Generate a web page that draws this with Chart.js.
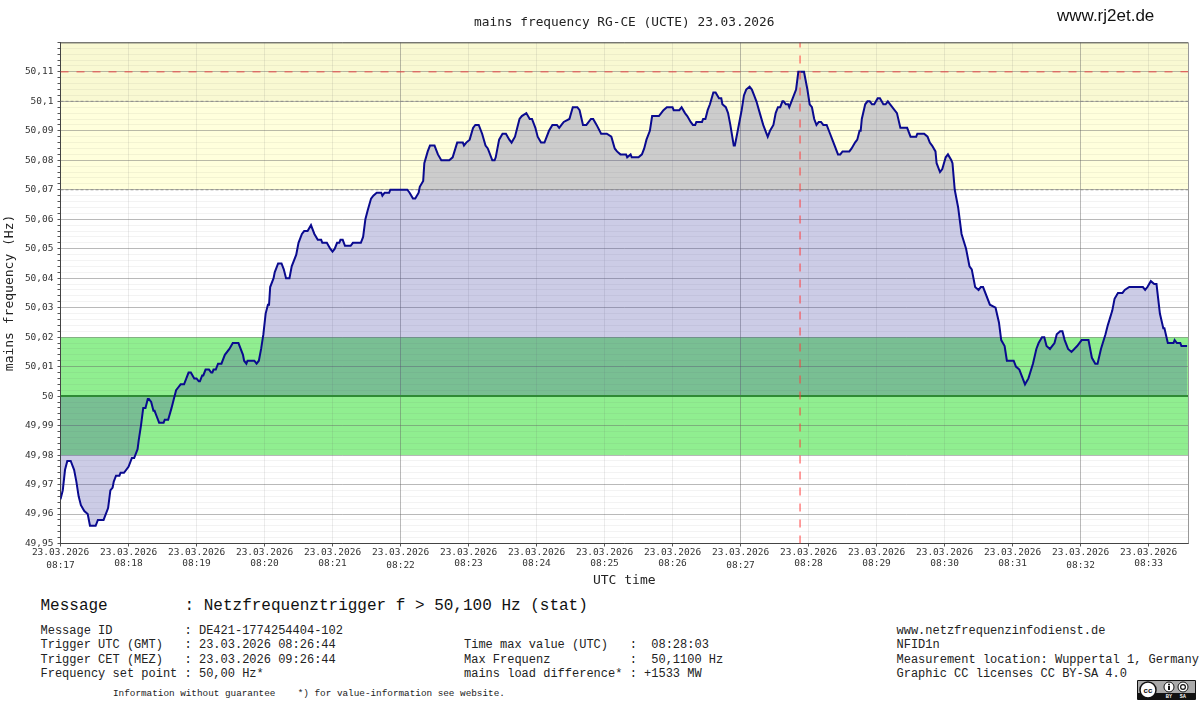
<!DOCTYPE html>
<html>
<head>
<meta charset="utf-8">
<title>mains frequency</title>
<script src="https://cdn.jsdelivr.net/npm/chart.js@4"></script>
<style>
  html, body { margin: 0; padding: 0; background: #fff; }
  #page { position: relative; width: 1200px; height: 704px; overflow: hidden; }
  #chartBox { position: absolute; left: 0; top: 0; width: 1200px; height: 590px; }
  .t { position: absolute; white-space: pre; font-family: "Liberation Mono", monospace; color: #222; font-size: 12px; line-height: 14.4px; }
  #site { font-family: "Liberation Sans", sans-serif; font-size: 17px; line-height: 20px; color: #111; left: 1057px; top: 6px; }
  #msg { font-size: 16px; line-height: 18px; left: 40.5px; top: 597px; color: #111; }
  #note { font-size: 9.33px; line-height: 12px; left: 113px; top: 688px; }
  #badge { position: absolute; left: 1137px; top: 680px; }
</style>
</head>
<body>
<div id="page">
  <div id="chartBox"><canvas id="freqChart"></canvas></div>
  <div class="t" id="site">www.rj2et.de</div>
  <div class="t" id="msg">Message        : Netzfrequenztrigger f &gt; 50,100 Hz (stat)</div>
  <div class="t" style="left:40.5px;top:624px">Message ID          : DE421-1774254404-102
Trigger UTC (GMT)   : 23.03.2026 08:26:44
Trigger CET (MEZ)   : 23.03.2026 09:26:44
Frequency set point : 50,00 Hz*</div>
  <div class="t" style="left:464px;top:638.4px">Time max value (UTC)   :  08:28:03
Max Frequenz           :  50,1100 Hz
mains load difference* : +1533 MW</div>
  <div class="t" style="left:896.5px;top:624px">www.netzfrequenzinfodienst.de
NFID1n
Measurement location: Wuppertal 1, Germany
Graphic CC licenses CC BY-SA 4.0</div>
  <div class="t" id="note">Information without guarantee    *) for value-information see website.</div>
  <svg id="badge" width="59" height="20" viewBox="0 0 59 20">
    <rect x="0" y="0" width="59" height="20" rx="1" fill="#111"/>
    <rect x="1" y="1" width="57" height="12" fill="#aaa"/>
    <circle cx="11" cy="10" r="8" fill="#fff" stroke="#111" stroke-width="1.5"/>
    <text x="11" y="12.5" font-family="Liberation Sans" font-weight="bold" font-size="8" text-anchor="middle" fill="#111">cc</text>
    <circle cx="32" cy="7" r="5" fill="#fff" stroke="#111"/>
    <circle cx="32" cy="4.6" r="1" fill="#111"/>
    <rect x="31" y="6" width="2" height="4" fill="#111"/>
    <circle cx="46" cy="7" r="5" fill="#fff" stroke="#111"/>
    <circle cx="46" cy="7" r="2.4" fill="none" stroke="#111" stroke-width="1.2"/>
    <text x="32" y="18" font-family="Liberation Sans" font-weight="bold" font-size="4.5" text-anchor="middle" fill="#fff">BY</text>
    <text x="46" y="18" font-family="Liberation Sans" font-weight="bold" font-size="4.5" text-anchor="middle" fill="#fff">SA</text>
  </svg>
</div>
<script>
// Seconds after 08:17 and mains frequency in Hz
const seconds = [0,2,4,6,9,11,12,14,16,18,21,24,26,31,33,38,42,44,46,47,49,52,53,56,60,63,65,68,69,71,73,75,77,78,80,82,83,85,87,91,92,95,98,100,102,104,106,109,113,115,118,120,122,123,125,126,128,131,133,134,135,137,139,142,145,149,152,157,161,162,164,165,171,173,175,177,179,181,183,184,
  185,188,189,192,195,197,199,202,204,208,210,213,215,218,221,224,227,230,231,235,238,240,242,244,246,247,249,251,256,258,265,267,269,271,274,276,279,283,284,286,290,291,306,308,311,313,316,317,
  320,321,324,326,330,333,336,343,346,350,355,356,358,361,364,366,369,372,375,377,381,383,384,387,390,393,396,398,401,403,405,407,411,414,416,419,421,424,427,431,434,438,440,442,444,449,452,456,458,461,464,468,470,473,477,482,486,489,491,494,499,500,503,504,510,513,515,517,520,522,528,530,532,535,540,541,546,548,551,553,556,558,560,561,566,567,569,571,573,576,578,581,583,584,587,589,591,594,595,597,600,601,603,605,608,610,612,614,617,620,622,624,626,629,631,633,635,637,638,640,642,643,646,649,651,
  653,656,657,659,661,663,665,667,669,671,673,676,679,681,686,688,690,696,698,701,703,705,706,707,710,712,714,716,718,721,723,726,728,730,732,738,741,747,750,755,756,762,765,767,769,772,773,776,778,781,783,786,787,789,792,
  795,799,802,804,807,810,812,814,820,825,828,830,833,835,841,843,846,851,854,858,861,863,866,868,870,873,877,879,882,884,886,889,892,897,901,907,910,913,915,918,922,924,928,930,933,937,939,943,955,957,959,962,965,967,970,973,974,977,982,983,985,988,989,994];
const freq = [49.965,49.968,49.975,49.978,49.978,49.976,49.975,49.971,49.966,49.963,49.961,49.96,49.956,49.956,49.958,49.958,49.962,49.968,49.969,49.971,49.973,49.973,49.974,49.974,49.976,49.979,49.979,49.982,49.985,49.99,49.996,49.996,49.999,49.999,49.998,49.995,49.995,49.993,49.991,49.991,49.992,49.992,49.996,49.999,50.002,50.003,50.004,50.004,50.008,50.008,50.006,50.006,50.005,50.005,50.007,50.007,50.009,50.009,50.008,50.008,50.009,50.009,50.011,50.011,50.014,50.016,50.018,50.018,50.014,50.012,50.011,50.012,50.012,50.011,50.012,50.016,50.021,50.028,50.031,50.031,
  50.037,50.04,50.042,50.045,50.045,50.043,50.04,50.04,50.044,50.048,50.052,50.055,50.056,50.056,50.058,50.055,50.053,50.053,50.052,50.052,50.05,50.049,50.05,50.052,50.052,50.053,50.053,50.051,50.051,50.052,50.052,50.054,50.06,50.063,50.067,50.068,50.069,50.069,50.068,50.069,50.069,50.07,50.07,50.069,50.067,50.067,50.069,50.071,
  50.073,50.079,50.083,50.085,50.085,50.082,50.08,50.08,50.081,50.086,50.086,50.085,50.086,50.087,50.091,50.092,50.092,50.089,50.085,50.084,50.08,50.08,50.081,50.087,50.089,50.089,50.087,50.086,50.088,50.091,50.094,50.095,50.096,50.094,50.094,50.091,50.088,50.086,50.086,50.09,50.092,50.092,50.091,50.092,50.093,50.094,50.098,50.098,50.097,50.092,50.092,50.094,50.094,50.092,50.089,50.089,50.088,50.084,50.083,50.082,50.082,50.081,50.082,50.081,50.081,50.082,50.084,50.087,50.09,50.095,50.095,50.096,50.097,50.098,50.098,50.097,50.097,50.098,50.096,50.095,50.093,50.092,50.092,50.093,50.093,50.094,50.094,50.097,50.099,50.103,50.103,50.101,50.101,50.099,50.098,50.096,50.092,50.085,50.085,50.089,50.095,50.097,50.102,50.104,50.105,50.104,50.102,50.1,50.096,50.092,50.09,50.088,50.09,50.092,50.096,50.098,50.098,50.1,50.1,50.099,50.099,50.098,50.101,50.104,50.11,
  50.11,50.11,50.108,50.104,50.099,50.098,50.094,50.092,50.093,50.093,50.092,50.092,50.089,50.087,50.082,50.082,50.083,50.083,50.084,50.086,50.087,50.09,50.09,50.094,50.099,50.1,50.1,50.099,50.099,50.101,50.101,50.099,50.099,50.1,50.099,50.096,50.091,50.091,50.088,50.088,50.089,50.089,50.088,50.086,50.085,50.083,50.079,50.076,50.077,50.081,50.082,50.08,50.079,50.07,50.064,
  50.055,50.05,50.044,50.043,50.037,50.036,50.037,50.037,50.031,50.03,50.025,50.019,50.017,50.012,50.012,50.01,50.009,50.004,50.006,50.011,50.016,50.018,50.02,50.02,50.017,50.016,50.018,50.021,50.022,50.022,50.019,50.016,50.015,50.017,50.019,50.019,50.013,50.011,50.011,50.016,50.021,50.024,50.029,50.033,50.035,50.035,50.036,50.037,50.037,50.036,50.037,50.039,50.038,50.038,50.028,50.023,50.023,50.018,50.018,50.019,50.018,50.018,50.017,50.017];

const dateLabel = "23.03.2026";
const timeLabels = ["08:17","08:18","08:19","08:20","08:21","08:22","08:23","08:24","08:25","08:26","08:27","08:28","08:29","08:30","08:31","08:32","08:33"];
const timeTicks = [0,60,120,180,240,300,360,420,480,540,600,660,720,780,840,900,960];
const yMajor = [49.95,49.96,49.97,49.98,49.99,50,50.01,50.02,50.03,50.04,50.05,50.06,50.07,50.08,50.09,50.1,50.11];
const yMajorLabels = ["49,95","49,96","49,97","49,98","49,99","50","50,01","50,02","50,03","50,04","50,05","50,06","50,07","50,08","50,09","50,1","50,11"];
const yMinorMilli = [2,4,6,8];

const xMax = 994.8, yMin = 49.95, yMax = 50.12;
const peakTime = 652.5;
const setPoint = 50;
const limitLow = 50.07, limitHigh = 50.1, triggerLine = 50.11;
// [from, to, colour]
const bands = [
  [50.07, 50.1, "#ffffdc"],
  [50.1, 50.12, "#f9f9d2"],
  [49.98, 50.02, "#90ee90"]
];

const mono = "'DejaVu Sans Mono', monospace";
const points = seconds.map((s, i) => ({ x: s, y: freq[i] }));
const hLine = (v) => [{ x: 0, y: v }, { x: xMax, y: v }];
const milli = (v) => Math.round(v * 1000);

const backdrop = {
  id: "backdrop",
  beforeDraw(chart) {
    const { ctx, chartArea: a, scales: { y } } = chart;
    ctx.save();
    bands.forEach(([lo, hi, color]) => {
      ctx.fillStyle = color;
      ctx.fillRect(a.left, y.getPixelForValue(hi), a.right - a.left, y.getPixelForValue(lo) - y.getPixelForValue(hi));
    });
    ctx.restore();
  },
  afterDraw(chart) {
    const { ctx, chartArea: a } = chart;
    ctx.save();
    ctx.strokeStyle = "#555";
    ctx.lineWidth = 1;
    ctx.beginPath();
    ctx.moveTo(a.left, a.top + 0.5); ctx.lineTo(a.right, a.top + 0.5);
    ctx.stroke();
    ctx.strokeStyle = "#999";
    ctx.beginPath();
    ctx.moveTo(a.right + 0.5, a.top); ctx.lineTo(a.right + 0.5, a.bottom);
    ctx.stroke();
    ctx.restore();
  }
};

new Chart(document.getElementById("freqChart"), {
  type: "line",
  plugins: [backdrop],
  data: {
    datasets: [
      { data: points, order: 10, fill: { value: setPoint }, backgroundColor: "rgba(58,58,159,0.26)", borderWidth: 0, pointRadius: 0 },
      { data: hLine(limitLow), order: 6, borderColor: "#8c8c8c", borderWidth: 1, borderDash: [3, 2], pointRadius: 0 },
      { data: hLine(limitHigh), order: 6, borderColor: "#8c8c8c", borderWidth: 1, borderDash: [3, 2], pointRadius: 0 },
      { data: hLine(triggerLine), order: 5, borderColor: "#e84a4a", borderWidth: 1, borderDash: [8, 8], pointRadius: 0 },
      { data: hLine(setPoint), order: 4, borderColor: "#2f8a35", borderWidth: 2, pointRadius: 0 },
      { data: points, order: 2, borderColor: "#0a0a8f", borderWidth: 2, pointRadius: 0 },
      { data: [{ x: peakTime, y: yMin }, { x: peakTime, y: yMax }], order: 1, borderColor: "#ff4040", borderWidth: 1, borderDash: [8, 8], pointRadius: 0 }
    ]
  },
  options: {
    responsive: true,
    maintainAspectRatio: false,
    animation: false,
    layout: { padding: { right: 12, left: 0, top: 0, bottom: 0 } },
    plugins: {
      legend: { display: false },
      tooltip: { enabled: false },
      title: {
        display: true,
        fullSize: false,
        text: "mains frequency RG-CE (UCTE) 23.03.2026",
        color: "#222",
        font: { family: mono, size: 12.8, weight: "normal", lineHeight: 1.2 },
        padding: { top: 15, bottom: 12 }
      }
    },
    scales: {
      x: {
        type: "linear",
        min: 0,
        max: xMax,
        afterBuildTicks: (s) => { s.ticks = timeTicks.map((v) => ({ value: v })); },
        afterFit: (s) => { s.height = 46.5; },
        ticks: {
          autoSkip: false,
          maxRotation: 0,
          padding: 0,
          color: "#333",
          // the five-minute labels sit a little lower in the original
          font: (c) => ({ family: mono, size: 9.5, lineHeight: c.tick && c.tick.value % 300 === 0 ? 1.37 : 1.2 }),
          callback: (v) => [dateLabel, timeLabels[timeTicks.indexOf(v)]]
        },
        grid: {
          tickLength: 3,
          tickColor: "#555",
          color: (c) => (c.tick.value % 300 === 0 ? "rgba(100,100,100,0.45)" : "rgba(100,100,100,0.12)")
        },
        border: { color: "#444" },
        title: {
          display: true,
          text: "UTC time",
          color: "#222",
          font: { family: mono, size: 13, weight: "normal" },
          padding: { top: 0, bottom: 2 }
        }
      },
      y: {
        type: "linear",
        min: yMin,
        max: yMax,
        afterBuildTicks: (s) => {
          const ticks = [];
          yMajor.forEach((v) => {
            ticks.push({ value: v });
            yMinorMilli.forEach((m) => ticks.push({ value: (milli(v) + m) / 1000 }));
          });
          ticks.push({ value: yMax });
          s.ticks = ticks;
        },
        afterFit: (s) => { s.width = 60.5; },
        ticks: {
          autoSkip: false,
          padding: 4,
          color: "#333",
          font: { family: mono, size: 9.5 },
          callback: (v) => {
            const i = yMajor.findIndex((m) => milli(m) === milli(v));
            return i < 0 ? "" : yMajorLabels[i];
          }
        },
        grid: {
          tickLength: 3,
          tickColor: "#555",
          color: (c) => (milli(c.tick.value) % 10 === 0 ? "rgba(100,100,100,0.45)" : "rgba(100,100,100,0.08)")
        },
        border: { color: "#444" },
        title: {
          display: true,
          text: "mains frequency (Hz)",
          color: "#222",
          font: { family: mono, size: 13, weight: "normal" },
          padding: { top: 2, bottom: 0 }
        }
      }
    }
  }
});
</script>
</body>
</html>
